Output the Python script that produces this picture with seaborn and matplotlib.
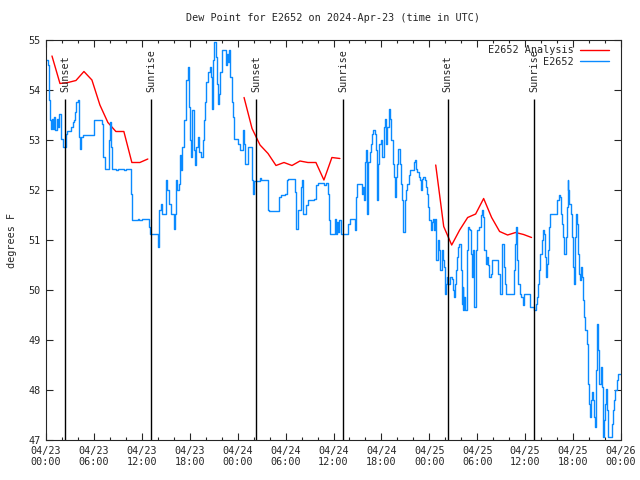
import pandas as pd
import matplotlib
matplotlib.use("Agg")
import matplotlib.pyplot as plt
import seaborn as sns
from matplotlib.ticker import MultipleLocator
from matplotlib.lines import Line2D

# observed dew point (hours since 2024-04-23 00:00 UTC, degrees F)
obs_hours = [
    0.0, 0.21, 0.33, 0.42, 0.50, 0.62, 0.75, 0.88, 1.04, 1.17, 1.33, 1.50, 1.67, 1.83, 1.92,
    2.08, 2.33, 2.50, 2.62, 3.00, 3.17, 3.33, 3.54, 3.67, 3.75, 3.96, 4.08, 4.17, 4.29, 4.42,
    4.58, 5.83, 6.00, 6.88, 7.00, 7.17, 7.33, 7.67, 7.83, 7.96, 8.08, 8.21, 8.75, 8.96, 9.79,
    10.00, 10.50, 10.67, 10.79, 11.46, 11.67,
    12.02, 12.65, 12.85, 13.06, 13.81, 13.98, 14.10, 14.19, 14.35, 14.52, 14.85, 15.02, 15.19,
    15.44, 15.69, 15.98, 16.10, 16.27, 16.44, 16.60, 16.73, 16.90, 17.02, 17.27, 17.48, 17.77,
    17.94, 18.06, 18.19, 18.31, 18.48, 18.60, 18.77, 19.02, 19.19, 19.44, 19.60, 19.77, 19.90,
    20.06, 20.27, 20.48, 20.60, 20.77, 20.90, 21.06, 21.23, 21.40, 21.56, 21.69, 21.85, 22.06,
    22.35, 22.48, 22.65, 22.77, 22.90, 23.06, 23.23, 23.44, 23.60, 23.90, 24.02,
    24.25, 24.54, 24.71, 24.83, 24.96, 25.12, 25.29, 25.62, 25.79, 25.87, 26.00, 26.54, 26.75,
    26.96, 27.62, 27.79, 27.87, 29.04, 29.21, 29.37, 29.87, 30.12, 30.29, 30.92, 31.12, 31.33,
    31.54, 31.75, 31.87, 32.00, 32.17, 32.54, 32.79, 33.62, 33.79, 34.04, 34.71, 34.83, 35.00,
    35.25, 35.46, 35.62, 36.04,
    36.19, 36.31, 36.44, 36.56, 36.73, 36.90, 37.73, 37.85, 38.02, 38.56, 38.69, 38.81, 38.98,
    39.40, 39.60, 39.73, 39.81, 39.90, 40.02, 40.23, 40.35, 40.52, 40.65, 40.85, 40.98, 41.15,
    41.27, 41.44, 41.56, 41.69, 41.90, 42.10, 42.31, 42.44, 42.60, 42.73, 42.94, 43.06, 43.23,
    43.44, 43.56, 43.69, 43.81, 43.98, 44.10, 44.27, 44.40, 44.52, 44.65, 44.73, 44.90, 45.02,
    45.23, 45.44, 45.60, 45.98, 46.10, 46.23, 46.35, 46.48, 46.65, 46.77, 46.90, 47.06, 47.23,
    47.40, 47.52, 47.69, 47.85, 47.98,
    48.16, 48.29, 48.46, 48.58, 48.71, 48.87, 49.00, 49.12, 49.25, 49.37, 49.54, 49.71, 49.83,
    49.96, 50.08, 50.25, 50.37, 50.58, 50.79, 50.91, 51.04, 51.16, 51.33, 51.50, 51.62, 51.75,
    51.91, 52.04, 52.16, 52.25, 52.37, 52.50, 52.66, 52.83, 53.00, 53.12, 53.25, 53.37, 53.50,
    53.62, 53.79, 54.00, 54.25, 54.41, 54.62, 54.75, 54.87, 55.08, 55.25, 55.37, 55.50, 55.66,
    55.87, 56.54, 56.66, 56.79, 56.91, 57.04, 57.16, 57.33, 57.46, 57.58, 58.50, 58.62, 58.75,
    58.83, 59.00, 59.12, 59.33, 59.54, 59.75, 59.91, 60.08,
    60.53, 60.65, 60.94, 61.15, 61.36, 61.48, 61.65, 61.78, 61.90, 62.07, 62.19, 62.32, 62.49,
    62.61, 62.74, 62.90, 63.03, 63.15, 63.78, 63.99, 64.19, 64.32, 64.49, 64.61, 64.78, 64.90,
    65.07, 65.19, 65.32, 65.40, 65.53, 65.69, 65.82, 65.94, 66.07, 66.19, 66.32, 66.44, 66.57,
    66.69, 66.82, 66.94, 67.07, 67.24, 67.40, 67.53, 67.69, 67.82, 67.90, 68.03, 68.11, 68.24,
    68.36, 68.53, 68.65, 68.78, 68.90, 69.03, 69.15, 69.28, 69.44, 69.57, 69.69, 69.78, 69.90,
    70.03, 70.15, 70.28, 70.40, 70.74, 70.90, 71.03, 71.15, 71.28, 71.44, 71.57, 72.00,
]
obs_dewpt = [
    54.60, 54.50, 54.27, 53.80, 53.40, 53.23, 53.43, 53.23, 53.47, 53.20, 53.43, 53.27, 53.53, 53.53, 53.03,
    52.87, 52.87, 53.13, 53.19, 53.19, 53.27, 53.37, 53.40, 53.57, 53.77, 53.80, 53.20, 53.07, 52.83, 53.07,
    53.11, 53.11, 53.40, 53.40, 53.33, 52.67, 52.43, 52.43, 53.00, 53.37, 52.87, 52.43, 52.40, 52.43, 52.40,
    52.43, 52.43, 51.93, 51.40, 51.42, 51.40,
    51.42, 51.42, 51.27, 51.13, 51.13, 50.87, 51.13, 51.60, 51.73, 51.53, 51.53, 52.20, 52.00,
    51.73, 51.53, 51.23, 51.53, 52.20, 52.00, 52.13, 52.70, 52.40, 52.87, 53.40, 54.20, 54.47,
    53.67, 53.00, 52.67, 53.60, 52.80, 52.50, 52.87, 53.07, 52.77, 52.67, 53.00, 53.40, 53.77,
    54.17, 54.37, 54.47, 54.27, 53.63, 54.60, 54.97, 54.67, 54.13, 53.73, 53.93, 54.37, 54.80,
    54.80, 54.50, 54.73, 54.57, 54.80, 54.27, 53.77, 53.47, 53.02, 53.02, 52.93,
    52.80, 52.80, 53.20, 52.93, 52.53, 52.53, 52.87, 52.87, 52.20, 51.93, 52.19, 52.19, 52.25,
    52.21, 52.21, 51.60, 51.58, 51.58, 51.87, 51.90, 51.93, 52.20, 52.23, 52.23, 51.97, 51.23,
    51.60, 51.60, 52.07, 52.20, 51.53, 51.70, 51.80, 51.83, 52.10, 52.15, 52.15, 52.10, 52.15,
    51.93, 51.40, 51.12, 51.12,
    51.43, 51.13, 51.37, 51.17, 51.40, 51.13, 51.13, 51.33, 51.43, 51.43, 51.20, 51.87, 52.13,
    52.13, 51.93, 52.07, 51.80, 52.57, 52.80, 51.53, 52.57, 52.77, 52.93, 53.13, 53.20, 53.13,
    52.80, 51.80, 52.53, 52.93, 53.00, 52.67, 53.27, 53.43, 52.93, 53.27, 53.63, 53.43, 53.00,
    52.53, 52.27, 51.87, 52.27, 52.53, 52.83, 52.53, 52.13, 51.80, 51.40, 51.17, 51.80, 52.00,
    52.13, 52.30, 52.41, 52.41, 52.57, 52.60, 52.43, 52.37, 52.27, 52.20, 52.00, 52.23, 52.27,
    52.20, 52.07, 51.93, 51.67, 51.40,
    51.20, 51.37, 51.43, 51.20, 51.43, 50.60, 50.60, 51.00, 50.80, 50.40, 50.80, 50.60, 50.47,
    49.93, 50.13, 50.27, 50.13, 50.27, 50.23, 50.00, 49.87, 50.13, 50.40, 50.67, 50.87, 50.93,
    50.40, 49.73, 50.07, 49.60, 49.87, 49.60, 50.80, 51.27, 51.23, 51.20, 50.73, 50.27, 50.80,
    49.67, 50.80, 51.20, 51.27, 51.50, 51.60, 51.47, 50.80, 50.53, 50.67, 50.50, 50.27, 50.33,
    50.60, 50.60, 50.33, 50.13, 49.93, 50.20, 50.93, 50.47, 50.13, 49.93, 49.93, 50.40, 50.93,
    51.27, 50.60, 50.13, 49.93, 49.87, 49.70, 49.93, 49.93,
    49.93, 49.67, 49.67, 49.60, 49.73, 49.87, 50.13, 50.40, 50.73, 51.00, 51.20, 51.13, 50.67,
    50.27, 50.53, 50.80, 51.27, 51.53, 51.53, 51.80, 51.90, 51.87, 51.53, 51.33, 51.07, 50.73,
    51.07, 51.67, 52.20, 52.00, 51.73, 51.53, 51.07, 50.47, 50.13, 51.07, 51.53, 51.33, 50.73,
    50.33, 50.20, 50.47, 50.27, 49.80, 49.47, 49.20, 48.93, 48.53, 48.13, 47.73, 47.47, 47.80,
    47.97, 47.80, 47.47, 47.27, 48.40, 49.33, 48.80, 48.13, 48.47, 48.07, 47.40, 47.07, 47.40,
    47.73, 48.03, 47.60, 47.07, 47.07, 47.33, 47.60, 47.80, 48.00, 48.20, 48.32, 48.32,
]

# analysis (hourly, night-time only)
ana_hours = [
    0.75, 1.75, 2.75, 3.75, 4.75, 5.75, 6.75, 7.75, 8.75, 9.75, 10.75, 11.75, 12.75,
    24.8, 25.8, 26.8, 27.8, 28.8, 29.8, 30.8, 31.8, 32.8, 33.8, 34.8, 35.8, 36.8,
    48.8, 49.8, 50.8, 51.8, 52.8, 53.8, 54.8, 55.8, 56.8, 57.8, 58.8, 59.8, 60.8,
]
ana_dewpt = [
    54.68, 54.13, 54.15, 54.19, 54.37, 54.20, 53.70, 53.35, 53.17, 53.17, 52.55, 52.55, 52.62,
    53.85, 53.23, 52.90, 52.73, 52.49, 52.55, 52.49, 52.58, 52.55, 52.55, 52.20, 52.65, 52.63,
    52.50, 51.27, 50.90, 51.20, 51.45, 51.52, 51.83, 51.45, 51.17, 51.10, 51.15, 51.11, 51.05,
]
ana_night = [1] * 13 + [2] * 13 + [3] * 13

sunset_hours = [2.38, 26.3, 50.3]
sunrise_hours = [13.15, 37.2, 61.1]

tick_hours = [0, 6, 12, 18, 24, 30, 36, 42, 48, 54, 60, 66, 72]
tick_labels = ["04/23\n00:00", "04/23\n06:00", "04/23\n12:00", "04/23\n18:00",
               "04/24\n00:00", "04/24\n06:00", "04/24\n12:00", "04/24\n18:00",
               "04/25\n00:00", "04/25\n06:00", "04/25\n12:00", "04/25\n18:00",
               "04/26\n00:00"]

red = "#ff0000"
blue = "#0a8aff"

obs = pd.DataFrame({"hour": obs_hours, "dewpt": obs_dewpt})
ana = pd.DataFrame({"hour": ana_hours, "dewpt": ana_dewpt, "night": ana_night})

sns.set_style("ticks")
plt.rcParams["font.family"] = ["DejaVu Sans Mono"]
plt.rcParams["font.size"] = 7.3

fig = plt.figure(figsize=(6.4, 4.8), dpi=100)
ax = fig.add_axes([46 / 640, 40 / 480, 575 / 640, 400 / 480])

sns.lineplot(data=ana, x="hour", y="dewpt", units="night", estimator=None,
             color=red, lw=1.0, ax=ax, legend=False)
sns.lineplot(data=obs, x="hour", y="dewpt", color=blue, lw=1.0,
             drawstyle="steps-post", ax=ax, legend=False)

for t in sunset_hours:
    ax.vlines(t, 47, 53.82, color="black", lw=1.0)
    ax.text(t, 53.96, "Sunset", rotation=90, ha="center", va="bottom")
for t in sunrise_hours:
    ax.vlines(t, 47, 53.82, color="black", lw=1.0)
    ax.text(t, 53.96, "Sunrise", rotation=90, ha="center", va="bottom")

ax.set_xlim(0, 72)
ax.set_ylim(47, 55)
ax.set_xticks(tick_hours)
ax.set_xticklabels(tick_labels)
ax.xaxis.set_minor_locator(MultipleLocator(2))
ax.yaxis.set_major_locator(MultipleLocator(1))
ax.tick_params(which="both", direction="in", top=True, right=True, width=0.8)
ax.tick_params(which="major", length=5, pad=4)
ax.tick_params(which="minor", length=2.5)
for s in ax.spines.values():
    s.set_linewidth(0.8)

ax.set_xlabel("")
ax.set_ylabel("degrees F", labelpad=8)
ax.set_title("Dew Point for E2652 on 2024-Apr-23 (time in UTC)", pad=14, fontsize=7.3)

handles = [Line2D([], [], color=red, lw=1.0), Line2D([], [], color=blue, lw=1.0)]
ax.legend(handles, ["E2652 Analysis", "E2652"], loc="upper right",
          bbox_to_anchor=(1 - 6 / 575, 1 + 1 / 400), frameon=False,
          markerfirst=False, handlelength=2.9, labelspacing=0.15,
          borderaxespad=0.2, handletextpad=0.6, fontsize=7.3)

fig.savefig("out.png", dpi=100)
